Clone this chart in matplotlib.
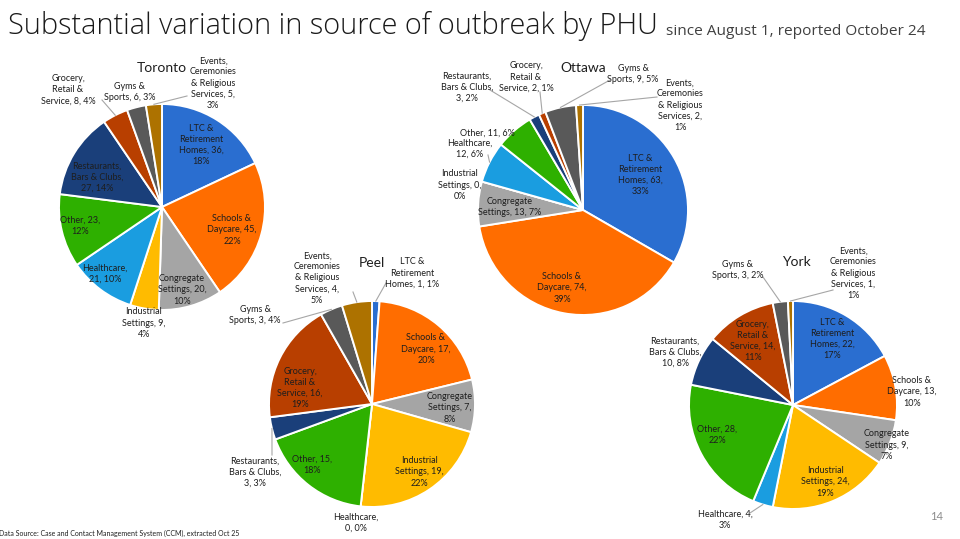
import numpy as np
import matplotlib.pyplot as plt

# categories (same order in every pie, clockwise from 12 o'clock)
categories = ["LTC & Retirement Homes", "Schools & Daycare", "Congregate Settings",
              "Industrial Settings", "Healthcare", "Other", "Restaurants, Bars & Clubs",
              "Grocery, Retail & Service", "Gyms & Sports",
              "Events, Ceremonies & Religious Services"]
# wrapped names as they show in the data labels
label_names = ["LTC &\nRetirement\nHomes", "Schools &\nDaycare", "Congregate\nSettings",
               "Industrial\nSettings", "Healthcare", "Other", "Restaurants,\nBars & Clubs",
               "Grocery,\nRetail &\nService", "Gyms &\nSports",
               "Events,\nCeremonies\n& Religious\nServices"]
colors = ['#2a6ed0', '#ff6d00', '#a5a5a5', '#ffbb00', '#1a9de0',
          '#2eb000', '#1a3f7a', '#b83f00', '#595959', '#ad7200']

toronto_counts = [36, 45, 20, 9, 21, 23, 27, 8, 6, 5]
toronto_pct = [18, 22, 10, 4, 10, 12, 14, 4, 3, 3]
peel_counts = [1, 17, 7, 19, 0, 15, 3, 16, 3, 4]
peel_pct = [1, 20, 8, 22, 0, 18, 3, 19, 4, 5]
ottawa_counts = [63, 74, 13, 0, 12, 11, 3, 2, 9, 2]
ottawa_pct = [33, 39, 7, 0, 6, 6, 2, 1, 5, 1]
york_counts = [22, 13, 9, 24, 4, 28, 10, 14, 3, 1]
york_pct = [17, 10, 7, 19, 3, 22, 8, 11, 2, 1]

W, H = 960, 539
LABEL_FONT = ['Lato', 'DejaVu Sans']
TITLE_FONT = ['Open Sans', 'DejaVu Sans']

# layout: pixel positions (y measured from top), label offsets from centre,
# line-break style per label, leader line start points
layout = {
    'Toronto': dict(center=(162, 207), radius=103, title=(162, 68), breaks="aaaababcca",
                    offsets=[(39, -62), (70, 23), (20, 83), (-18, 116), (-57, 67),
                             (-82, 19), (-65, -30), (-94, -117), (-32, -115), (51, -124)],
                    leaders={7: (-60, -107), 9: (25, -111)}),
    'Peel': dict(center=(372, 404), radius=103, title=(372, 263), breaks="caaababaca",
                 offsets=[(40, -131), (54, -55), (78, 4), (47, 68), (-16, 119),
                          (-60, 61), (-117, 68), (-72, -16), (-117, -89), (-55, -126)],
                 leaders={0: (14, -121), 6: (-100, 51), 8: (-89, -81), 9: (-19, -112)}),
    'Ottawa': dict(center=(583, 210), radius=105, title=(583, 68), breaks="aacabcbcca",
                   offsets=[(57, -35), (-21, 78), (-73, -3), (-123, -25), (-113, -61),
                            (-96, -77), (-116, -123), (-57, -133), (50, -136), (97, -105)],
                   leaders={4: (-95, -55), 6: (-93, -120), 7: (-43, -118),
                            8: (27, -130), 9: (74, -113)}),
    'York': dict(center=(793, 405), radius=104, title=(796, 262), breaks="aaaaaabaca",
                 offsets=[(39, -66), (119, -13), (94, 40), (32, 77), (-68, 115),
                          (-76, 30), (-118, -53), (-40, -64), (-55, -135), (60, -132)],
                 leaders={4: (-43, 108), 8: (-30, -128), 9: (40, -115)}),
}
seps = {'a': (' ', '\n'), 'b': ('\n', ' '), 'c': (' ', ' ')}

fig = plt.figure(figsize=(9.6, 5.39), dpi=100)
ax = fig.add_axes([0, 0, 1, 1])


def draw_phu(name, counts, pcts):
    lay = layout[name]
    cx, cy = lay['center']
    r = lay['radius']
    Y = H - cy
    ax.pie(counts, colors=colors, startangle=90, counterclock=False,
           center=(cx, Y), radius=r,
           wedgeprops=dict(edgecolor='white', linewidth=1.4))

    vals = np.array(counts, dtype=float)
    mids = 90 - 360 * (np.cumsum(vals) - vals / 2) / vals.sum()

    for i, v in enumerate(counts):
        s1, s2 = seps[lay['breaks'][i]]
        txt = f"{label_names[i]},{s1}{v},{s2}{pcts[i]}%"
        dx, dy = lay['offsets'][i]
        ax.text(cx + dx, Y - dy, txt, ha='center', va='center', multialignment='center',
                fontsize=6.5, family=LABEL_FONT, color='#1e1e1e', linespacing=1.3)

    for i, (sx, sy) in lay['leaders'].items():
        th = np.radians(mids[i])
        ex, ey = cx + r * np.cos(th), Y + r * np.sin(th)
        ax.plot([cx + sx, ex], [Y - sy, ey], color='#a6a6a6', lw=0.8)

    tx, ty = lay['title']
    ax.text(tx, H - ty, name, ha='center', va='center', fontsize=10,
            family=LABEL_FONT, color='#1e1e1e')


draw_phu('Toronto', toronto_counts, toronto_pct)
draw_phu('Peel', peel_counts, peel_pct)
draw_phu('Ottawa', ottawa_counts, ottawa_pct)
draw_phu('York', york_counts, york_pct)

ax.set_xlim(0, W)
ax.set_ylim(0, H)
ax.set_aspect('auto')
ax.axis('off')


def fit_text(t, width_px):
    # scale the font so the text spans the same width as in the slide
    renderer = fig.canvas.get_renderer()
    w = t.get_window_extent(renderer).width
    t.set_fontsize(t.get_fontsize() * width_px / w)


# title and notes
title = fig.text(8 / W, 1 - 34 / H, "Substantial variation in source of outbreak by PHU",
                 ha='left', va='baseline', fontsize=20, family=TITLE_FONT,
                 fontweight='light', color='#1a1a1a')
sub = fig.text(666 / W, 1 - 35 / H, "since August 1, reported October 24", ha='left',
               va='baseline', fontsize=10, family=TITLE_FONT, color='#404040')
fit_text(title, 650)
fit_text(sub, 259)
fig.text(-1 / W, 1 - 533 / H,
         "Data Source: Case and Contact Management System (CCM), extracted Oct 25",
         ha='left', va='center', fontsize=5, family=LABEL_FONT, color='#1e1e1e')
fig.text(937 / W, 1 - 517 / H, "14", ha='center', va='center', fontsize=8,
         family=LABEL_FONT, color='#8c8c8c')

fig.savefig('out.png', dpi=100)
